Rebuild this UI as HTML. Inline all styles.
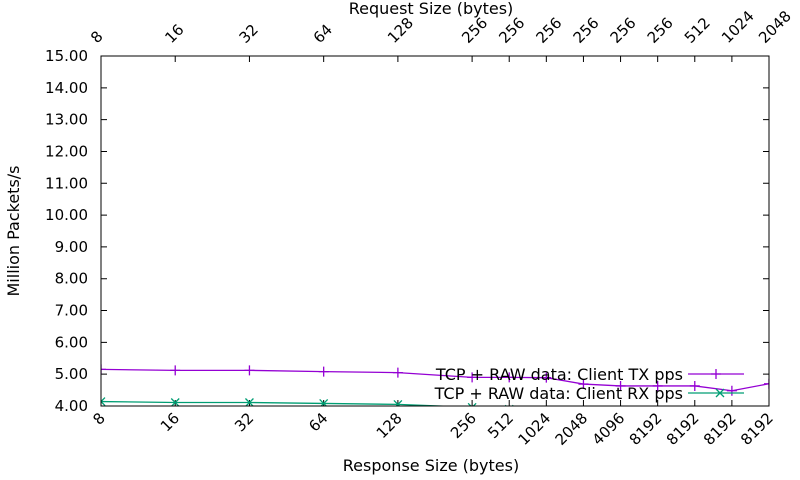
<!DOCTYPE html>
<html><head><meta charset="utf-8"><style>
html,body{margin:0;padding:0;background:#fff;}
svg{display:block;font-family:"DejaVu Sans","Liberation Sans",sans-serif;}
</style></head><body>
<svg id="chart" width="800" height="480" xmlns="http://www.w3.org/2000/svg">
<defs><clipPath id="pc"><rect x="101" y="56" width="668" height="350"/></clipPath></defs>
<rect x="0" y="0" width="800" height="480" fill="#fff"/>
<g id="axes"></g>
<g id="series" clip-path="url(#pc)"></g>
<rect x="101" y="56" width="668" height="350" fill="none" stroke="#000" stroke-width="1"/>
<text x="431" y="14" font-size="16" text-anchor="middle">Request Size (bytes)</text>
<text x="431" y="471" font-size="16" text-anchor="middle">Response Size (bytes)</text>
<text transform="translate(19,231) rotate(-90)" font-size="16" text-anchor="middle">Million Packets/s</text>
<g id="legend">
<text x="683" y="380" font-size="16" text-anchor="end">TCP + RAW data: Client TX pps</text>
<line x1="688" y1="374" x2="744" y2="374" stroke="#9400d3" stroke-width="1.3"/>
<path d="M716,369V379M711,374H721" stroke="#9400d3" stroke-width="1.3"/>
<text x="683" y="399" font-size="16" text-anchor="end">TCP + RAW data: Client RX pps</text>
<line x1="688" y1="393" x2="744" y2="393" stroke="#009e73" stroke-width="1.3"/>
<path d="M716,389L724,397M716,397L724,389" stroke="#009e73" stroke-width="1.3"/>
</g>
</svg>
<script>
const xIndex = [0,2,4,6,8,10,11,12,13,14,15,16,17,18];
const bottomLabels = ["8","16","32","64","128","256","512","1024","2048","4096","8192","8192","8192","8192"];
const topLabels = ["8","16","32","64","128","256","256","256","256","256","256","512","1024","2048"];
const yTicks = [4,5,6,7,8,9,10,11,12,13,14,15];
const txValues = [5.15,5.12,5.12,5.08,5.05,4.90,4.90,4.89,4.69,4.63,4.63,4.63,4.48,4.70];
const rxValues = [4.14,4.11,4.11,4.08,4.05,3.96,3.90,3.85,3.80,3.75,3.72,3.70,3.65,3.60];
const NS="http://www.w3.org/2000/svg";
const X0=101,X1=769,Y0=406,Y1=56;
function xs(i){return X0+(X1-X0)*i/18;}
function ys(v){return Y0-(Y0-Y1)*(v-4)/11;}
const axes=document.getElementById('axes'), ser=document.getElementById('series');
function el(t,a,p){const e=document.createElementNS(NS,t);for(const k in a)e.setAttribute(k,a[k]);p.appendChild(e);return e;}
yTicks.forEach(v=>{
  const y=ys(v);
  const t=el('path',{d:`M${X0},${y}h6M${X1},${y}h-6`,stroke:'#000','stroke-width':1},axes);
  
  
  const l=el('text',{x:88,y:y+5,'font-size':15,'text-anchor':'end'},axes);
  l.textContent=v.toFixed(2);
  
  
});
xIndex.forEach((ix,k)=>{
  const x=xs(ix);
  const t=el('path',{d:`M${x},${Y0}v-6M${x},${Y1}v6`,stroke:'#000','stroke-width':1},axes);
  
  
  const b=el('text',{transform:`translate(${x+5},${Y0+13}) rotate(-45)`,'font-size':15,'text-anchor':'end'},axes);
  b.textContent=bottomLabels[k];
  
  
  const tp=el('text',{transform:`translate(${x-4},${Y1-12}) rotate(-45)`,'font-size':15,'text-anchor':'start'},axes);
  tp.textContent=topLabels[k];
  
  
});
function drawSeries(vals,color,name,marker){
  const pts=vals.map((v,k)=>[xs(xIndex[k]),ys(v)]);
  const pl=el('polyline',{points:pts.map(p=>p.join(',')).join(' '),fill:'none',stroke:color,'stroke-width':1.3},ser);
  
  
  pts.forEach(p=>{
    const d=marker==='plus'?`M${p[0]},${p[1]-5}v10M${p[0]-5},${p[1]}h10`:`M${p[0]-4},${p[1]-4}l8,8M${p[0]-4},${p[1]+4}l8,-8`;
    const m=el('path',{d:d,stroke:color,'stroke-width':1.3},ser);
    
    
  });
}
drawSeries(txValues,'#9400d3','tx-pps','plus');
drawSeries(rxValues,'#009e73','rx-pps','cross');
</script>
</body></html>
